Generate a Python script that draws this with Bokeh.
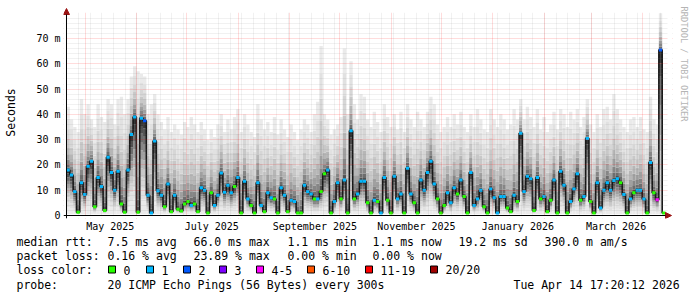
import numpy as np
import pandas as pd
from bokeh.plotting import figure
from bokeh.layouts import column
from bokeh.core.properties import value
from bokeh.models import (Range1d, FixedTicker, DatetimeTickFormatter, Grid, Title,
                          BoxAnnotation, Arrow, NormalHead, ColumnDataSource)
from bokeh.embed import file_html
from bokeh.resources import INLINE

# ---------------- data ----------------
START = "2025-04-19 17:20"
END = "2026-04-14 17:20"
BIN = "2D"   # each value below covers two days

median_ms = [
    18, 16, 9.5, 1.3, 13, 8.3, 19.5, 21.5, 3.5, 15,
    11.5, 2, 23, 17, 10, 17.5, 4.5, 1.3, 18, 32,
    39, 1.3, 38.5, 37.5, 8, 1, 29.5, 9.8, 8, 3.5,
    12.5, 1.5, 8, 2.5, 1.8, 4.5, 5.5, 4, 4.5, 1.5,
    11, 10, 1, 9, 4, 8, 16.8, 9.2, 12, 9,
    11.5, 15, 1, 13.5, 6.5, 4, 1, 13, 4, 1.5,
    9, 7, 6.5, 1, 11, 8, 1.5, 6, 5.5, 1,
    1, 12, 9.5, 8.5, 6.5, 6.5, 9.5, 16.5, 18, 1,
    5.5, 13, 6.5, 14, 1, 33.5, 6.5, 8.5, 13.5, 13.5,
    5, 1, 6, 5.5, 1, 15, 6, 1, 15.5, 6.5,
    8.5, 1, 18.7, 8.5, 5, 1, 14, 10, 17, 21.5,
    12.5, 6.5, 1, 4, 9, 5, 11, 8.5, 14, 7.5,
    1, 17, 4, 6.5, 10, 3.5, 1, 10.5, 7, 1,
    7.5, 7.5, 3, 1.5, 8, 5.5, 32.5, 9.5, 15.5, 14.5,
    2, 15, 6.5, 7.5, 1.5, 6, 14, 1, 17.5, 12,
    1, 5.5, 10.5, 16.5, 6, 7.5, 30.5, 5.5, 1, 13,
    3, 10, 13, 10, 13.8, 14.5, 13, 8.3, 1, 6.5,
    9, 10, 10, 6.5, 1, 21, 9, 6.2, 65.5, 1,
]

smoke_top_ms = [
    43, 38, 35, 33, 46, 40, 44, 38, 35, 44,
    39, 37, 46, 44, 36, 46, 47, 40, 46, 55,
    59, 57, 56, 55, 40, 44, 48, 40, 37, 34,
    39, 33, 36, 34, 32, 37, 35, 39, 36, 33,
    37, 34, 30, 34, 31, 36, 40, 33, 38, 34,
    39, 42, 33, 40, 36, 33, 31, 44, 38, 34,
    37, 33, 39, 32, 38, 34, 31, 36, 33, 30,
    34, 38, 36, 33, 40, 45, 67, 40, 38, 32,
    34, 36, 39, 66, 40, 61, 44, 38, 48, 47,
    38, 35, 41, 37, 33, 44, 39, 35, 40, 34,
    41, 33, 44, 38, 35, 41, 38, 35, 41, 47,
    44, 36, 33, 35, 39, 35, 40, 36, 41, 35,
    33, 40, 35, 42, 38, 34, 33, 42, 38, 35,
    40, 38, 34, 36, 42, 38, 46, 38, 43, 39,
    35, 42, 34, 39, 33, 36, 41, 34, 42, 40,
    35, 41, 38, 42, 35, 39, 46, 36, 33, 40,
    35, 42, 43, 38, 48, 42, 38, 35, 33, 38,
    39, 35, 39, 34, 33, 47, 38, 36, 80, 1.2,
]

loss_class = [
    1, 1, 1, 0, 1, 1, 1, 1, 0, 1,
    1, 0, 1, 1, 1, 1, 0, 0, 1, 1,
    1, 0, 1, 2, 1, 1, 1, 1, 1, 0,
    1, 0, 1, 0, 0, 0, 0, 1, 0, 0,
    1, 1, 0, 0, 1, 1, 1, 1, 1, 1,
    0, 1, 0, 1, 1, 0, 0, 1, 1, 0,
    1, 1, 0, 0, 1, 1, 0, 1, 1, 0,
    0, 1, 1, 1, 0, 1, 0, 0, 1, 0,
    1, 1, 0, 1, 0, 1, 0, 1, 1, 1,
    0, 0, 1, 0, 1, 1, 0, 0, 1, 1,
    1, 0, 1, 1, 0, 0, 1, 1, 1, 1,
    1, 0, 0, 0, 1, 1, 1, 0, 1, 0,
    0, 1, 1, 1, 1, 0, 0, 1, 1, 1,
    1, 1, 0, 0, 1, 0, 1, 1, 1, 1,
    0, 1, 0, 1, 0, 0, 1, 0, 1, 1,
    0, 1, 1, 1, 0, 1, 1, 0, 0, 1,
    1, 1, 1, 1, 1, 1, 0, 1, 0, 1,
    0, 1, 1, 1, 0, 1, 0, 4, 2, 0,
]

smoke_floor_ms = 0.5

loss_labels = ["0", "1", "2", "3", "4-5", "6-10", "11-19", "20/20"]
loss_colors = ["#26ff00", "#00b8ff", "#0059ff", "#7e00ff",
               "#ff00ff", "#ff5500", "#ff0000", "#a00000"]

y_ticks = [0, 10, 20, 30, 40, 50, 60, 70]
y_tick_labels = ["0", "10 m", "20 m", "30 m", "40 m", "50 m", "60 m", "70 m"]
x_label_dates = ["2025-05-16", "2025-07-16", "2025-09-16",
                 "2025-11-16", "2026-01-16", "2026-03-16"]

rtt_label = "median rtt:"
rtt_stats = ["7.5 ms avg", "66.0 ms max", "1.1 ms min", "1.1 ms now",
             "19.2 ms sd", "390.0 m am/s"]
loss_label = "packet loss:"
loss_stats = ["0.16 % avg", "23.89 % max", "0.00 % min", "0.00 % now"]
color_label = "loss color:"
probe_label = "probe:"
probe_text = "20 ICMP Echo Pings (56 Bytes) every 300s"
stamp_text = "Tue Apr 14 17:20:12 2026"
watermark = "RRDTOOL / TOBI OETIKER"

# ---------------- scales ----------------
FONT = "DejaVu Sans Mono"
DAY = 86400000.0
PX_DAYS = 0.6            # one pixel column = 0.6 day
PX_MS = 2.5286           # pixels per millisecond of rtt


def ms(ts):
    return pd.Timestamp(ts).value / 1e6


x0, x1 = ms(START), ms(END)
edges = pd.date_range(START, periods=len(median_ms) + 1, freq=BIN).asi8 / 1e6
centers = (edges[:-1] + edges[1:]) / 2
bin_w = edges[1] - edges[0]

# frame: canvas x 63..673, y 6..218 (value 0 at y=215, start at x=66)
p = figure(width=697, height=235, x_axis_type="datetime",
           output_backend="svg", toolbar_location=None,
           x_range=Range1d(x0 - 3 * PX_DAYS * DAY, x1 + 7 * PX_DAYS * DAY),
           y_range=Range1d(-3 / PX_MS, 209 / PX_MS),
           min_border_left=63, min_border_right=24, min_border_top=6,
           min_border_bottom=17)
p.outline_line_color = None
p.background_fill_color = "white"
p.border_fill_color = "white"
p.xgrid.visible = False
p.ygrid.visible = False

# ---------------- smoke ----------------
SHADES = ["#363636", "#505050", "#6c6c6c", "#868686", "#a0a0a0",
          "#b6b6b6", "#c8c8c8", "#d6d6d6", "#e1e1e1", "#eaeaea"]
L, R, B, T, C = [], [], [], [], []
for i, (m, top) in enumerate(zip(median_ms, smoke_top_ms)):
    lo = min(smoke_floor_ms, m)
    for j in range(10):
        L.append(edges[i]); R.append(edges[i + 1])
        B.append(lo + (m - lo) * (j / 10) ** 0.8)
        T.append(lo + (m - lo) * ((j + 1) / 10) ** 0.8)
        C.append(SHADES[9 - j])
    for k in range(10):
        L.append(edges[i]); R.append(edges[i + 1])
        B.append(m + (top - m) * (k / 10) ** 2.0)
        T.append(m + (top - m) * ((k + 1) / 10) ** 2.0)
        C.append(SHADES[k])
p.quad(left=L, right=R, bottom=B, top=T, fill_color=C, line_color=None)

# ---------------- median line + loss colours ----------------
p.step(centers, median_ms, mode="center", line_color="#181818", line_width=1.6)
src = ColumnDataSource(dict(x=centers, y=median_ms,
                            c=[loss_colors[k] for k in loss_class]))
p.rect(x="x", y="y", width=bin_w, height=3, height_units="screen",
       fill_color="c", line_color=None, source=src)

# ---------------- grid (drawn over the smoke) ----------------
minor_y = [v for v in range(2, 81, 2) if v % 10]
major_y = list(range(10, 80, 10))
weeks = pd.date_range("2025-04-20", END, freq="7D").asi8 / 1e6
months = pd.date_range("2025-05-01", END, freq="MS").asi8 / 1e6
for dim, ticks, col, alpha in [(1, minor_y, "#808080", 0.22),
                               (0, list(weeks), "#808080", 0.22),
                               (1, major_y, "#ff0000", 0.28),
                               (0, list(months), "#ff0000", 0.28)]:
    p.add_layout(Grid(dimension=dim, ticker=FixedTicker(ticks=ticks),
                      grid_line_color=col, grid_line_alpha=alpha,
                      grid_line_dash="1 1", level="overlay"))

# white margins so the grid stops at the graph area
for kw in (dict(bottom=80.15), dict(left=x1 + 2 * PX_DAYS * DAY),
           dict(right=x0), dict(top=0)):
    p.add_layout(BoxAnnotation(fill_color="white", fill_alpha=1.0,
                               line_color=None, level="overlay", **kw))

# axis lines with arrow heads
ARROW_COL = "#9a1414"
p.add_layout(Arrow(end=NormalHead(size=6, fill_color=ARROW_COL, line_color=ARROW_COL),
                   x_start=x0, y_start=-3 / PX_MS, x_end=x0, y_end=207 / PX_MS,
                   line_color="black", line_width=1, level="overlay"))
p.add_layout(Arrow(end=NormalHead(size=6, fill_color=ARROW_COL, line_color=ARROW_COL),
                   x_start=x0 - 3 * PX_DAYS * DAY, y_start=0,
                   x_end=x1 + 6 * PX_DAYS * DAY, y_end=0,
                   line_color="black", line_width=1, level="overlay"))

# ---------------- axes ----------------
p.yaxis.ticker = FixedTicker(ticks=y_ticks)
p.yaxis.major_label_overrides = dict(zip(y_ticks, y_tick_labels))
p.xaxis.ticker = FixedTicker(ticks=[ms(d) for d in x_label_dates])
fmt = "%B %Y"
p.xaxis.formatter = DatetimeTickFormatter(
    microseconds=fmt, milliseconds=fmt, seconds=fmt, minsec=fmt, minutes=fmt,
    hourmin=fmt, hours=fmt, days=fmt, months=fmt, years=fmt)
for ax in (p.xaxis[0], p.yaxis[0]):
    ax.major_tick_out = 0
    ax.major_tick_in = 0
    ax.minor_tick_out = 0
    ax.minor_tick_in = 0
    ax.axis_line_color = None
    ax.major_label_text_font = FONT
    ax.major_label_text_font_size = "10px"
    ax.major_label_text_color = "black"
p.yaxis.major_label_standoff = 3
p.xaxis.major_label_standoff = 2
p.yaxis.axis_label = "Seconds"
p.yaxis.axis_label_text_font = FONT
p.yaxis.axis_label_text_font_size = "11.5px"
p.yaxis.axis_label_text_font_style = "normal"
p.yaxis.axis_label_text_color = "black"
p.yaxis.axis_label_standoff = 15

p.add_layout(Title(text=watermark, text_font=FONT, text_font_size="8.7px",
                   text_font_style="normal", text_color="#b4b4b4",
                   align="left", standoff=13), "right")

# ---------------- legend block (canvas y 235..297) ----------------
lg = figure(width=697, height=62, output_backend="svg", toolbar_location=None,
            x_range=Range1d(0, 697), y_range=Range1d(297, 235),
            x_axis_location=None, y_axis_location=None,
            min_border_left=0, min_border_right=0, min_border_top=0,
            min_border_bottom=0)
lg.outline_line_color = None
lg.grid.visible = False
lg.background_fill_color = "white"
lg.border_fill_color = "white"

for fig in (p, lg):
    if "frame_align" in fig.properties():
        fig.frame_align = False

rows_y = [241, 255.5, 269.5, 284]
tx, ty, tt = [], [], []


def put(x, y, s):
    tx.append(x); ty.append(y); tt.append(s)


put(16, rows_y[0], rtt_label)
for x, s in zip([107, 193, 287, 372, 458, 544], rtt_stats):
    put(x, rows_y[0], s)
put(16, rows_y[1], loss_label)
for x, s in zip([107, 193, 287, 372], loss_stats):
    put(x, rows_y[1], s)
put(16, rows_y[2], color_label)
box_x = [108, 146, 183, 219, 256, 307, 365, 430]
for bx, lab in zip(box_x, loss_labels):
    put(bx + 15, rows_y[2], lab)
put(16, rows_y[3], probe_label)
put(107, rows_y[3], probe_text)
put(513, rows_y[3], stamp_text)

lg.text(x=tx, y=ty, text=tt, text_font=value(FONT), text_font_size="11.5px",
        text_color="black", text_align="left", text_baseline="middle")
lg.quad(left=box_x, right=[b + 7 for b in box_x], top=[265.5] * len(box_x),
        bottom=[272.5] * len(box_x), fill_color=loss_colors,
        line_color="black", line_width=1)

layout = column(p, lg, spacing=0)
open("out.html", "w").write(file_html(layout, INLINE))
